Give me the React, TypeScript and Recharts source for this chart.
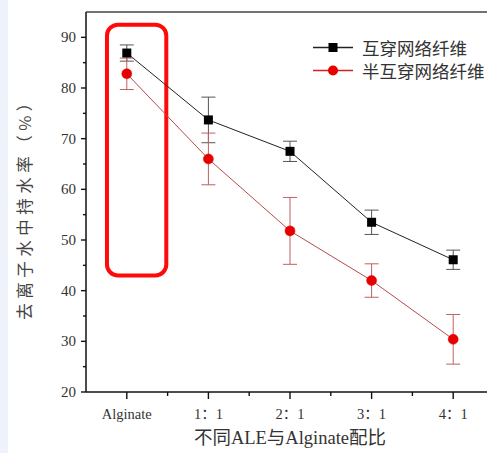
import React from 'react';
import {
  ComposedChart,
  Line,
  XAxis,
  YAxis,
  ErrorBar,
  ReferenceArea,
  ReferenceLine,
  Legend,
} from 'recharts';

// Ratio categories on the x axis (placed at positions 1..5)
const categories = ['Alginate', '1：1', '2：1', '3：1', '4：1'];
// 互穿网络纤维 — water retention (%) and error
const ipnValues = [86.9, 73.7, 67.5, 53.5, 46.1];
const ipnErrors = [1.6, 4.5, 2.0, 2.4, 1.9];
// 半互穿网络纤维 — water retention (%) and error
const semiValues = [82.8, 66.0, 51.8, 42.0, 30.4];
const semiErrors = [3.1, 5.1, 6.6, 3.3, 4.9];

const yMajorTicks = [20, 30, 40, 50, 60, 70, 80, 90];
const yMinorTicks = [25, 35, 45, 55, 65, 75, 85];
const xMinorTicks = [1.5, 2.5, 3.5, 4.5];

const seriesNames = ['互穿网络纤维', '半互穿网络纤维'];

const data = categories.map((c, i) => ({
  pos: i + 1,
  name: c,
  ipn: ipnValues[i],
  ipnErr: ipnErrors[i],
  semi: semiValues[i],
  semiErr: semiErrors[i],
}));

const SERIF = '"Liberation Serif", "Times New Roman", "Noto Sans CJK SC", serif';
const CJK = '"Noto Sans CJK SC", "Liberation Serif", serif';

const YTick = (props: any) => {
  const { x, y, payload } = props;
  const major = yMajorTicks.includes(payload.value);
  return (
    <g>
      <line x1={x - (major ? 5 : 3)} x2={x} y1={y} y2={y} stroke="#111" strokeWidth={1.4} />
      {major && (
        <text
          x={x - 10}
          y={y}
          textAnchor="end"
          dominantBaseline="central"
          fontFamily={SERIF}
          fontSize={15}
          fill="#333"
        >
          {payload.value}
        </text>
      )}
    </g>
  );
};

const XTick = (props: any) => {
  const { x, y, payload } = props;
  const idx = Math.round(payload.value) - 1;
  const major = Number.isInteger(payload.value);
  return (
    <g>
      <line x1={x} x2={x} y1={y} y2={y + (major ? 7 : 4)} stroke="#111" strokeWidth={1.4} />
      {major && (
        <text
          x={x}
          y={y + 22}
          textAnchor="middle"
          dominantBaseline="central"
          fontFamily={SERIF}
          fontSize={14.5}
          fill="#333"
        >
          {categories[idx]}
        </text>
      )}
    </g>
  );
};

const SquareDot = (props: any) => {
  const { cx, cy } = props;
  if (cx == null || cy == null) return null;
  return <rect x={cx - 4.5} y={cy - 4.5} width={9} height={9} fill="#000" />;
};

const LegendContent = () => {
  const items = [
    { name: seriesNames[0], line: '#222', mark: 'square' },
    { name: seriesNames[1], line: '#d42020', mark: 'circle' },
  ];
  return (
    <div>
      {items.map((it) => (
        <div key={it.name} style={{ display: 'flex', alignItems: 'center', height: 23 }}>
          <svg width={40} height={23}>
            <line x1={0} x2={40} y1={11.5} y2={11.5} stroke={it.line} strokeWidth={1.4} />
            {it.mark === 'square' ? (
              <rect x={15.5} y={7} width={9} height={9} fill="#000" />
            ) : (
              <circle cx={20} cy={11.5} r={5} fill="#e60000" />
            )}
          </svg>
          <span
            style={{
              marginLeft: 9,
              fontFamily: CJK,
              fontSize: 17.5,
              color: '#333',
              lineHeight: '23px',
              whiteSpace: 'nowrap',
            }}
          >
            {it.name}
          </span>
        </div>
      ))}
    </div>
  );
};

export default function App() {
  return (
    <div style={{ position: 'relative' }}>
      <div
        style={{
          position: 'fixed',
          left: 0,
          top: 0,
          width: 8,
          height: '100%',
          background: '#eef2fb',
        }}
      />
      <ComposedChart
        width={487}
        height={445}
        data={data}
        margin={{ top: 4, right: 1, bottom: 0, left: 0 }}
      >
        <XAxis
          dataKey="pos"
          type="number"
          domain={[0.5, 5.5]}
          ticks={[1, 1.5, 2, 2.5, 3, 3.5, 4, 4.5, 5]}
          interval={0}
          height={61}
          axisLine={{ stroke: '#111', strokeWidth: 1.5 }}
          tickLine={false}
          tickSize={0}
          tickMargin={0}
          tick={<XTick />}
          label={{
            content: () => (
              <text
                x={282}
                y={430}
                textAnchor="middle"
                dominantBaseline="central"
                fontFamily={SERIF}
                fontSize={18.5}
                fill="#333"
              >
                不同ALE与Alginate配比
              </text>
            ),
          }}
        />
        <YAxis
          type="number"
          domain={[20, 95]}
          ticks={[...yMajorTicks, ...yMinorTicks].sort((a, b) => a - b)}
          interval={0}
          width={78}
          axisLine={{ stroke: '#111', strokeWidth: 1.5 }}
          tickLine={false}
          tickSize={0}
          tickMargin={0}
          tick={<YTick />}
          label={{
            content: () => (
              <text
                x={16}
                y={197}
                transform="rotate(-90 16 197)"
                textAnchor="middle"
                dominantBaseline="central"
                fontFamily={CJK}
                fontSize={16.5}
                letterSpacing={4.5}
                fill="#444"
              >
                去离子水中持水率（%）
              </text>
            ),
          }}
        />
        <ReferenceLine y={95} stroke="#444" strokeWidth={1.5} />
        <ReferenceLine x={5.5} stroke="#999" strokeWidth={1} />
        <Line
          dataKey="ipn"
          name={seriesNames[0]}
          stroke="#222"
          strokeWidth={1}
          dot={<SquareDot />}
          activeDot={false}
          isAnimationActive={false}
        >
          <ErrorBar dataKey="ipnErr" direction="y" width={7} stroke="#555" strokeWidth={1} />
        </Line>
        <Line
          dataKey="semi"
          name={seriesNames[1]}
          stroke="#b84a4a"
          strokeWidth={1}
          dot={{ r: 5, fill: '#e60000', stroke: '#e60000', strokeWidth: 0.5 }}
          activeDot={false}
          isAnimationActive={false}
        >
          <ErrorBar dataKey="semiErr" direction="y" width={7} stroke="#c06060" strokeWidth={1} />
        </Line>
        <ReferenceArea
          x1={0.757}
          x2={1.484}
          y1={43}
          y2={92.5}
          shape={(p: any) => (
            <rect
              x={p.x}
              y={p.y}
              width={p.width}
              height={p.height}
              rx={11}
              ry={11}
              fill="none"
              stroke="#ff0a0a"
              strokeWidth={4}
            />
          )}
        />
        <Legend
          layout="vertical"
          align="center"
          verticalAlign="middle"
          content={<LegendContent />}
          wrapperStyle={{ position: 'absolute', left: 305, top: 28, width: 180, height: 46 }}
        />
      </ComposedChart>
    </div>
  );
}
